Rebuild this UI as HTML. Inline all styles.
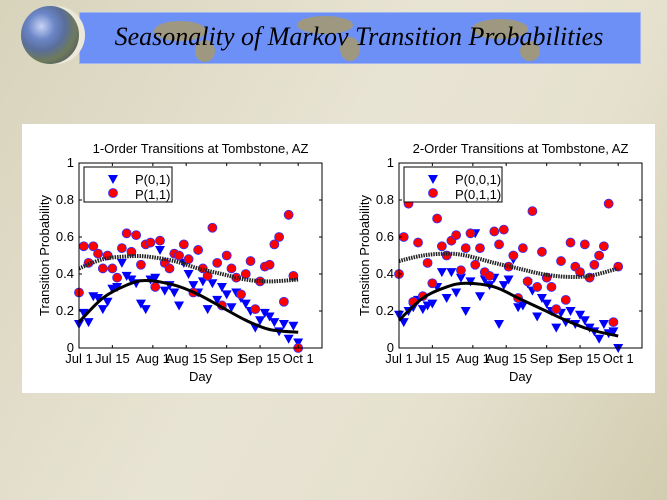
<!DOCTYPE html>
<html><head><meta charset="utf-8"><style>
html,body{margin:0;padding:0}
body{width:667px;height:500px;overflow:hidden;background:linear-gradient(120deg,#d8d3bb 0%,#e8e4d4 45%,#e6e1cf 70%,#d2ccb0 100%);position:relative;font-family:"Liberation Sans",sans-serif}
#band{position:absolute;left:79px;top:12px;width:560px;height:50px;background:#6d90f6;border:1px solid #9fb4f0;overflow:hidden}
#globe{position:absolute;left:21px;top:6px;width:58px;height:58px;border-radius:50%;background:radial-gradient(circle at 35% 35%,#c9d3f5 0%,#6b86c8 25%,#5a6e9a 45%,#6e7a5a 65%,#3a3f6a 100%);box-shadow:6px 0 0 #ece8da}
#title{position:absolute;left:79px;top:12px;width:560px;height:50px;line-height:50px;text-align:center;font-family:"Liberation Serif",serif;font-style:italic;font-size:26px;color:#000}
#panel{position:absolute;left:22px;top:124px;width:633px;height:269px;background:#fff}
svg{position:absolute;left:0;top:0}
</style></head><body>
<div id="band">
<svg width="560" height="50">
<g fill="#a79a6c" opacity="0.85"><ellipse cx="100" cy="18" rx="26" ry="10"/><ellipse cx="125" cy="38" rx="10" ry="11"/><ellipse cx="245" cy="12" rx="28" ry="9"/><ellipse cx="270" cy="36" rx="10" ry="12"/><ellipse cx="420" cy="16" rx="28" ry="10"/><ellipse cx="450" cy="38" rx="10" ry="10"/></g>
</svg>
</div>
<div id="globe"></div>
<div id="title">Seasonality of Markov Transition Probabilities</div>
<div id="panel"></div>
<svg id="chart" width="667" height="500"></svg>
<script>
const days=[0,2,4,6,8,10,12,14,16,18,20,22,24,26,28,30,32,34,36,38,40,42,44,46,48,50,52,54,56,58,60,62,64,66,68,70,72,74,76,78,80,82,84,86,88,90,92];
const left01=[0.13,0.19,0.14,0.28,0.27,0.21,0.25,0.32,0.33,0.46,0.39,0.37,0.35,0.24,0.21,0.37,0.38,0.53,0.31,0.34,0.30,0.23,0.46,0.40,0.34,0.30,0.36,0.21,0.35,0.26,0.33,0.29,0.22,0.30,0.27,0.24,0.20,0.11,0.15,0.19,0.17,0.14,0.09,0.13,0.05,0.12,0.03];
const left11=[0.30,0.55,0.46,0.55,0.51,0.43,0.50,0.43,0.38,0.54,0.62,0.52,0.61,0.45,0.56,0.57,0.33,0.58,0.46,0.43,0.51,0.50,0.56,0.48,0.30,0.53,0.43,0.39,0.65,0.46,0.23,0.50,0.43,0.38,0.29,0.40,0.47,0.21,0.36,0.44,0.45,0.56,0.60,0.25,0.72,0.39,0.00];
const right001=[0.18,0.14,0.20,0.22,0.26,0.21,0.23,0.24,0.33,0.41,0.27,0.41,0.30,0.38,0.20,0.36,0.62,0.28,0.37,0.34,0.38,0.13,0.34,0.37,0.48,0.22,0.23,0.35,0.31,0.17,0.27,0.24,0.20,0.11,0.19,0.14,0.20,0.13,0.18,0.15,0.11,0.09,0.05,0.13,0.08,0.09,0.00];
const right011=[0.40,0.60,0.78,0.25,0.57,0.28,0.46,0.35,0.70,0.55,0.50,0.58,0.61,0.42,0.54,0.62,0.45,0.54,0.41,0.39,0.63,0.56,0.64,0.44,0.50,0.27,0.54,0.36,0.74,0.33,0.52,0.38,0.33,0.21,0.47,0.26,0.57,0.44,0.41,0.56,0.38,0.45,0.50,0.55,0.78,0.14,0.44];
const fitDays=[0,10,20,28,40,50,60,70,80,92];
const leftFit01=[0.14,0.27,0.34,0.365,0.34,0.29,0.22,0.15,0.10,0.085];
const leftFit11=[0.43,0.48,0.495,0.495,0.47,0.43,0.40,0.37,0.36,0.37];
const rightFit001=[0.15,0.27,0.33,0.35,0.33,0.27,0.21,0.15,0.10,0.065];
const rightFit011=[0.47,0.50,0.51,0.50,0.46,0.43,0.40,0.385,0.39,0.43];
const xTickDays=[0,14,31,45,62,76,92];
const xTickLabels=["Jul 1","Jul 15","Aug 1","Aug 15","Sep 1","Sep 15","Oct 1"];
const yTicks=[0,0.2,0.4,0.6,0.8,1];
const yTickLabels=["0","0.2","0.4","0.6","0.8","1"];

const NS="http://www.w3.org/2000/svg";
const svg=document.getElementById('chart');
function mk(tag,attrs,parent){const e=document.createElementNS(NS,tag);for(const k in attrs)e.setAttribute(k,attrs[k]);parent.appendChild(e);return e;}
function smooth(pts){let d="M"+pts[0][0]+","+pts[0][1];for(let i=0;i<pts.length-1;i++){const p0=pts[Math.max(0,i-1)],p1=pts[i],p2=pts[i+1],p3=pts[Math.min(pts.length-1,i+2)];const c1=[p1[0]+(p2[0]-p0[0])/6,p1[1]+(p2[1]-p0[1])/6],c2=[p2[0]-(p3[0]-p1[0])/6,p2[1]-(p3[1]-p1[1])/6];d+=" C"+c1+" "+c2+" "+p2;}return d;}
function chart(x0,title,names,tri,circ,fitT,fitC,key){
  const W=243,T=163,B=348,x1=x0+W;
  const X=d=>x0+d/102*W, Y=v=>B-v*(B-T);
  const g=mk('g',{},svg);
  
  
  const t=mk('text',{x:(x0+x1)/2,y:153,'text-anchor':'middle','font-size':13},g);t.textContent=title;
  
  tri.forEach((v,i)=>{const cx=X(days[i]),cy=Y(v);const p=mk('polygon',{points:(cx-5)+","+(cy-4)+" "+(cx+5)+","+(cy-4)+" "+cx+","+(cy+5),fill:'#0000ff'},g);
    });
  circ.forEach((v,i)=>{const c=mk('circle',{cx:X(days[i]),cy:Y(v),r:4.5,fill:'#ff0000',stroke:'#3030ff','stroke-width':0.8},g);
    });
  const l1=mk('path',{d:smooth(fitDays.map((d,i)=>[X(d),Y(fitT[i])])),fill:'none',stroke:'#000','stroke-width':3},g);
  
  const l2=mk('path',{d:smooth(fitDays.map((d,i)=>[X(d),Y(fitC[i])])),fill:'none',stroke:'#222','stroke-width':4,'stroke-dasharray':'1.5,1'},g);
  
  const bx=mk('rect',{x:x0,y:T,width:W,height:B-T,fill:'none',stroke:'#000','stroke-width':1},g);
  
  xTickDays.forEach((d,i)=>{const x=X(d);mk('line',{x1:x,y1:B,x2:x,y2:B-3,stroke:'#000'},g);mk('line',{x1:x,y1:T,x2:x,y2:T+3,stroke:'#000'},g);
    const tl=mk('text',{x:x,y:B+15,'text-anchor':'middle','font-size':13},g);tl.textContent=xTickLabels[i];
    });
  yTicks.forEach((v,i)=>{const y=Y(v);mk('line',{x1:x0,y1:y,x2:x0+3,y2:y,stroke:'#000'},g);mk('line',{x1:x1,y1:y,x2:x1-3,y2:y,stroke:'#000'},g);
    const tl=mk('text',{x:x0-5,y:y+4,'text-anchor':'end','font-size':13},g);tl.textContent=yTickLabels[i];
    });
  const xl=mk('text',{x:(x0+x1)/2,y:381,'text-anchor':'middle','font-size':13},g);xl.textContent="Day";
  
  const yl=mk('text',{x:0,y:0,'text-anchor':'middle','font-size':13,transform:"translate("+(x0-30)+","+((T+B)/2)+") rotate(-90)"},g);yl.textContent="Transition Probability";
  
  const lw=names[0].length>6?98:88;
  const lg=mk('g',{},g);
  mk('rect',{x:x0+5,y:167,width:lw,height:35,fill:'#fff',stroke:'#000'},lg);
  const cx=x0+34;
  mk('polygon',{points:(cx-5)+","+175+" "+(cx+5)+","+175+" "+cx+","+184,fill:'#0000ff'},lg);
  mk('circle',{cx:cx,cy:193,r:4.5,fill:'#ff0000',stroke:'#3030ff','stroke-width':0.8},lg);
  const e1=mk('text',{x:x0+56,y:184,'font-size':13},lg);e1.textContent=names[0];
  
  const e2=mk('text',{x:x0+56,y:199,'font-size':13},lg);e2.textContent=names[1];
  
}
chart(79,"1-Order Transitions at Tombstone, AZ",["P(0,1)","P(1,1)"],left01,left11,leftFit01,leftFit11,'first-order');
chart(399,"2-Order Transitions at Tombstone, AZ",["P(0,0,1)","P(0,1,1)"],right001,right011,rightFit001,rightFit011,'second-order');
</script>
</body></html>
